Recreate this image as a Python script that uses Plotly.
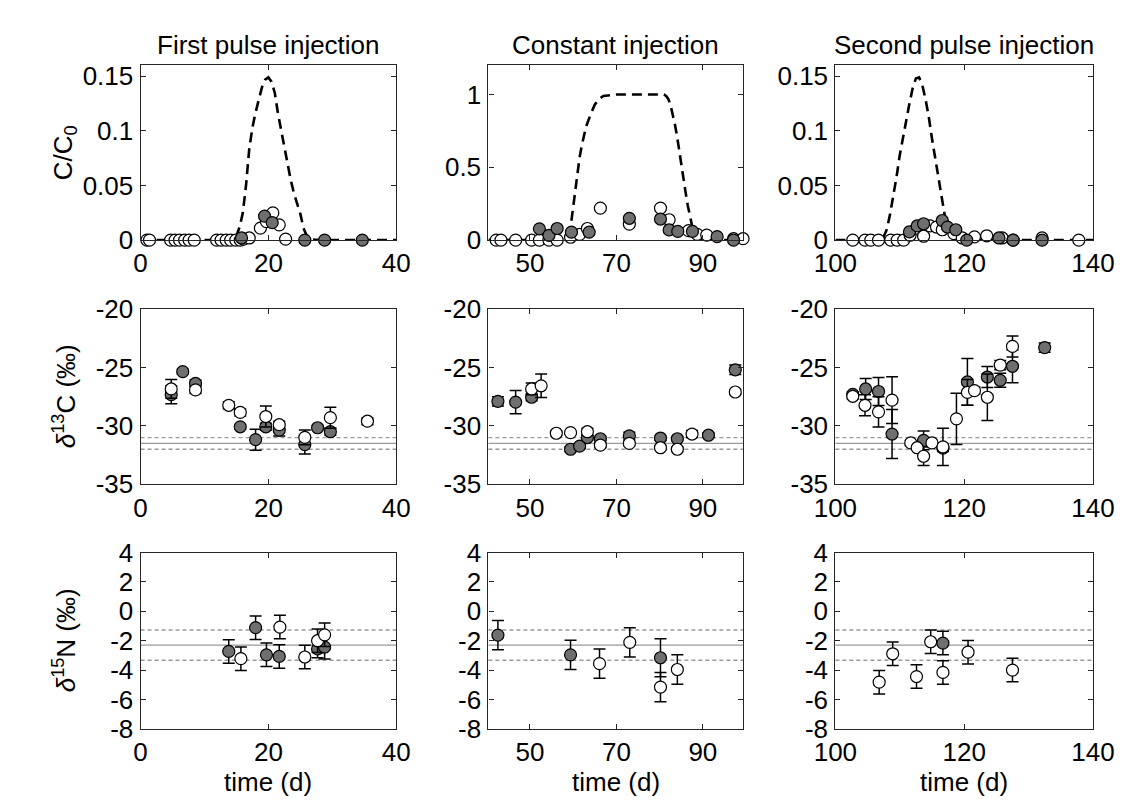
import plotly.graph_objects as go

# ---------------- DATA ----------------
# Top row: relative concentration C/C0 (model = dashed line, measured = circles)
fp_model_t = [0, 10, 14, 15, 15.5, 16, 16.5, 17, 17.5, 18, 18.5, 19, 19.5, 20, 20.5, 21, 21.5, 22, 22.5, 23, 23.5, 24, 24.5, 25, 25.5, 26, 26.5, 28, 40]
fp_model_c = [0, 0, 0, 0.004, 0.012, 0.025, 0.05, 0.083, 0.103, 0.117, 0.13, 0.14, 0.147, 0.149, 0.145, 0.135, 0.116, 0.1, 0.085, 0.07, 0.055, 0.043, 0.033, 0.024, 0.011, 0.004, 0.001, 0, 0]
fp_open_t = [1.0, 1.4, 4.7, 5.4, 6.1, 6.9, 7.6, 8.4, 11.9, 12.6, 13.4, 14.1, 14.9, 15.6, 16.1, 17.0, 18.75, 19.7, 20.7, 21.7, 22.7]
fp_open_c = [0, 0, 0, 0, 0, 0, 0, 0, 0, 0, 0, 0, 0, 0, 0.001, 0.002, 0.011, 0.017, 0.025, 0.014, 0.001]
fp_grey_t = [15.8, 19.4, 20.6, 25.7, 28.8, 34.7]
fp_grey_c = [0.002, 0.022, 0.016, 0, 0, 0]

ci_model_t = [40.4, 57, 58, 59, 59.5, 60, 60.5, 61, 61.5, 62, 62.5, 63, 64, 65, 66, 67, 70, 75, 80, 81, 81.5, 82, 82.5, 83, 83.5, 84, 84.5, 85, 85.5, 86, 86.5, 87, 87.5, 88, 89, 90, 99.3]
ci_model_c = [0, 0, 0.01, 0.05, 0.11, 0.23, 0.34, 0.46, 0.57, 0.65, 0.72, 0.78, 0.86, 0.93, 0.97, 0.99, 1, 1, 1, 1, 0.99, 0.97, 0.93, 0.87, 0.8, 0.72, 0.63, 0.53, 0.43, 0.33, 0.24, 0.16, 0.1, 0.05, 0.01, 0, 0]
ci_open_t = [42.2, 43.3, 46.7, 50.4, 52.2, 54.4, 56.3, 59.4, 61.5, 63.3, 66.3, 73.0, 80.2, 82.2, 86.7, 88.7, 90.9, 97.1, 99.3]
ci_open_c = [0, 0, 0, 0, 0, 0, 0, 0.02, 0.04, 0.08, 0.22, 0.11, 0.22, 0.14, 0.065, 0.04, 0.035, 0.01, 0.01]
ci_grey_t = [52.2, 54.4, 56.3, 59.6, 63.7, 73.0, 80.2, 82.2, 84.2, 87.6, 93.3, 97.1]
ci_grey_c = [0.078, 0.033, 0.08, 0.055, 0.055, 0.15, 0.145, 0.07, 0.06, 0.06, 0.024, 0]

sp_model_t = [100, 107, 107.5, 108, 108.5, 109, 109.5, 110, 110.5, 111, 111.5, 112, 112.5, 113, 113.5, 114, 114.5, 115, 115.5, 116, 116.5, 117, 117.5, 118, 119, 120, 140]
sp_model_c = [0, 0, 0.003, 0.01, 0.024, 0.04, 0.058, 0.078, 0.095, 0.11, 0.125, 0.139, 0.148, 0.149, 0.142, 0.129, 0.113, 0.093, 0.075, 0.055, 0.037, 0.022, 0.012, 0.005, 0.001, 0, 0]
sp_open_t = [102.7, 104.6, 105.5, 106.7, 108.6, 109.6, 110.6, 111.6, 112.6, 113.7, 114.7, 115.7, 116.6, 118.4, 119.7, 121.6, 123.5, 125.9, 127.6, 132.1, 137.8]
sp_open_c = [0, 0, 0, 0, 0, 0, 0, 0.0045, 0.011, 0.0036, 0.013, 0.012, 0.0095, 0.006, 0.002, 0.003, 0.004, 0.002, 0, 0.002, 0]
sp_grey_t = [111.5, 112.7, 113.7, 116.6, 117.4, 118.7, 120.4, 125.4, 127.6, 132.1]
sp_grey_c = [0.0075, 0.013, 0.015, 0.018, 0.012, 0.0095, 0, 0.002, 0, 0]

# Middle row: delta13C (permil) with error bars
fp_c13_open_t = [4.8, 8.6, 13.8, 15.6, 19.6, 21.7, 25.7, 29.7, 35.5]
fp_c13_open_v = [-26.84, -26.92, -28.24, -28.85, -29.2, -29.9, -30.99, -29.3, -29.6]
fp_c13_open_e = [0.8, 0.3, 0.3, 0.3, 0.9, 0.3, 0.63, 0.9, 0.3]
fp_c13_grey_t = [4.8, 6.6, 8.6, 15.6, 18.0, 19.6, 21.7, 25.7, 27.7, 29.7]
fp_c13_grey_v = [-27.33, -25.36, -26.37, -30.08, -31.18, -30.08, -30.36, -31.6, -30.16, -30.5]
fp_c13_grey_e = [0.77, 0.2, 0.3, 0.2, 0.9, 0.3, 0.5, 0.8, 0.2, 0.3]

ci_c13_open_t = [50.4, 52.6, 56.1, 59.4, 63.3, 66.3, 73.0, 80.2, 84.1, 87.5, 97.5]
ci_c13_open_v = [-26.84, -26.57, -30.63, -30.58, -30.5, -31.65, -31.5, -31.87, -32.0, -30.7, -27.1]
ci_c13_open_e = [0.5, 1.0, 0.2, 0.1, 0.3, 0.2, 0.2, 0.2, 0.2, 0.3, 0.2]
ci_c13_grey_t = [42.6, 46.7, 50.4, 59.4, 61.5, 63.3, 66.3, 73.0, 80.2, 84.1, 91.3, 97.5]
ci_c13_grey_v = [-27.9, -27.97, -27.55, -32.0, -31.73, -31.0, -31.1, -30.85, -31.04, -31.1, -30.8, -25.2]
ci_c13_grey_e = [0.4, 1.0, 0.3, 0.2, 0.2, 0.2, 0.2, 0.3, 0.2, 0.2, 0.2, 0.4]

sp_c13_open_t = [102.7, 104.6, 106.7, 108.8, 111.7, 112.7, 113.7, 115.0, 116.7, 118.8, 120.5, 121.6, 123.6, 125.6, 127.5]
sp_c13_open_v = [-27.47, -28.24, -28.8, -27.8, -31.46, -31.87, -32.6, -31.46, -31.8, -29.4, -27.14, -26.98, -27.55, -24.8, -23.2]
sp_c13_open_e = [0.2, 0.9, 1.3, 2.0, 0.2, 0.2, 0.8, 0.2, 1.6, 2.2, 1.1, 0.3, 2.0, 0.4, 0.9]
sp_c13_grey_t = [102.7, 104.7, 106.7, 108.8, 113.7, 116.7, 120.5, 123.6, 125.6, 127.5, 132.5]
sp_c13_grey_v = [-27.3, -26.84, -27.06, -30.7, -31.24, -31.9, -26.24, -25.82, -26.1, -24.9, -23.3]
sp_c13_grey_e = [0.2, 0.9, 1.2, 2.1, 0.8, 0.3, 2.0, 0.9, 0.6, 1.4, 0.4]

# Bottom row: delta15N (permil) with error bars
fp_n15_open_t = [15.7, 21.8, 25.7, 27.7, 28.8]
fp_n15_open_v = [-3.22, -1.07, -3.11, -2.0, -1.6]
fp_n15_open_e = [0.8, 0.8, 0.8, 0.8, 0.8]
fp_n15_grey_t = [13.8, 18.0, 19.7, 21.7, 27.7, 28.8]
fp_n15_grey_v = [-2.73, -1.11, -2.96, -3.07, -2.56, -2.44]
fp_n15_grey_e = [0.8, 0.8, 0.8, 0.8, 0.6, 0.8]

ci_n15_open_t = [66.1, 73.1, 80.2, 84.1]
ci_n15_open_v = [-3.56, -2.11, -5.16, -3.96]
ci_n15_open_e = [1.0, 1.0, 1.0, 1.0]
ci_n15_grey_t = [42.6, 59.4, 80.2]
ci_n15_grey_v = [-1.62, -2.96, -3.16]
ci_n15_grey_e = [1.0, 1.0, 1.3]

sp_n15_open_t = [106.8, 108.9, 112.6, 114.8, 116.7, 120.6, 127.5]
sp_n15_open_v = [-4.82, -2.89, -4.44, -2.07, -4.16, -2.78, -4.0]
sp_n15_open_e = [0.8, 0.8, 0.8, 0.8, 0.8, 0.8, 0.8]
sp_n15_grey_t = [116.7]
sp_n15_grey_v = [-2.16]
sp_n15_grey_e = [0.8]

# background reference values (mean, upper, lower)
c13_ref = [-31.5, -31.0, -32.0]
n15_ref = [-2.3, -1.27, -3.33]

col_titles = ["First pulse injection", "Constant injection", "Second pulse injection"]
x_ranges = [[0, 40], [40.4, 99.3], [100, 140]]
x_ticks = [[0, 20, 40], [50, 70, 90], [100, 120, 140]]
top_y_ranges = [[0, 0.16], [0, 1.2], [0, 0.16]]
top_y_ticks = [[0, 0.05, 0.1, 0.15], [0, 0.5, 1], [0, 0.05, 0.1, 0.15]]
top_y_text = [["0", "0.05", "0.1", "0.15"], ["0", "0.5", "1"], ["0", "0.05", "0.1", "0.15"]]
c13_range = [-35, -20]
c13_ticks = [-35, -30, -25, -20]
n15_range = [-8, 4]
n15_ticks = [-8, -6, -4, -2, 0, 2, 4]

# ---------------- STYLE ----------------
FONT = "Liberation Sans, Arial, Helvetica, sans-serif"
FS = 26
AXC = "#262626"
GREY = "#6f6f6f"
col_dom = [[0.1018, 0.3372], [0.4221, 0.6566], [0.7416, 0.9788]]
row_dom = [[0.7216, 0.9457], [0.4086, 0.6333], [0.0951, 0.3210]]

fig = go.Figure()


def nm(k):
    return "" if k == 1 else str(k)


def add_markers(k, t, v, fill, err=None):
    tr = dict(x=t, y=v, mode="markers", xaxis="x" + nm(k), yaxis="y" + nm(k),
              marker=dict(size=12, color=fill, line=dict(color="black", width=1.2)),
              cliponaxis=False, showlegend=False, hoverinfo="x+y")
    if err is not None:
        tr["error_y"] = dict(type="data", array=err, color="black", thickness=1.5, width=6)
    fig.add_trace(go.Scatter(**tr))


def fmt(v):
    return ("-" + str(abs(v))) if v < 0 else str(v)


top = [(fp_model_t, fp_model_c, fp_open_t, fp_open_c, fp_grey_t, fp_grey_c),
       (ci_model_t, ci_model_c, ci_open_t, ci_open_c, ci_grey_t, ci_grey_c),
       (sp_model_t, sp_model_c, sp_open_t, sp_open_c, sp_grey_t, sp_grey_c)]
mid = [(fp_c13_grey_t, fp_c13_grey_v, fp_c13_grey_e, fp_c13_open_t, fp_c13_open_v, fp_c13_open_e),
       (ci_c13_grey_t, ci_c13_grey_v, ci_c13_grey_e, ci_c13_open_t, ci_c13_open_v, ci_c13_open_e),
       (sp_c13_grey_t, sp_c13_grey_v, sp_c13_grey_e, sp_c13_open_t, sp_c13_open_v, sp_c13_open_e)]
bot = [(fp_n15_grey_t, fp_n15_grey_v, fp_n15_grey_e, fp_n15_open_t, fp_n15_open_v, fp_n15_open_e),
       (ci_n15_grey_t, ci_n15_grey_v, ci_n15_grey_e, ci_n15_open_t, ci_n15_open_v, ci_n15_open_e),
       (sp_n15_grey_t, sp_n15_grey_v, sp_n15_grey_e, sp_n15_open_t, sp_n15_open_v, sp_n15_open_e)]

layout = {}
shapes = []
for r in range(3):
    for c in range(3):
        k = r * 3 + c + 1
        axstyle = dict(showline=True, linecolor=AXC, linewidth=1.2, mirror="ticks",
                       ticks="inside", ticklen=5, tickwidth=1, tickcolor=AXC,
                       showgrid=False, zeroline=False,
                       tickfont=dict(family=FONT, size=FS, color="black"))
        layout["xaxis" + nm(k)] = dict(axstyle, domain=col_dom[c], anchor="y" + nm(k),
                                       range=x_ranges[c], tickvals=x_ticks[c],
                                       ticktext=[str(v) for v in x_ticks[c]])
        if r == 0:
            yr, yt, ytxt = top_y_ranges[c], top_y_ticks[c], top_y_text[c]
        elif r == 1:
            yr, yt, ytxt = c13_range, c13_ticks, [fmt(v) for v in c13_ticks]
        else:
            yr, yt, ytxt = n15_range, n15_ticks, [fmt(v) for v in n15_ticks]
        layout["yaxis" + nm(k)] = dict(axstyle, domain=row_dom[r], anchor="x" + nm(k),
                                       range=yr, tickvals=yt, ticktext=ytxt,
                                       ticklabelstandoff=1)
        if r == 0:
            mt, mc, ot, oc, gt, gc = top[c]
            fig.add_trace(go.Scatter(x=mt, y=mc, mode="lines", xaxis="x" + nm(k), yaxis="y" + nm(k),
                                     line=dict(color="black", width=2.6, dash="10px,6px"),
                                     showlegend=False, hoverinfo="skip"))
            add_markers(k, ot, oc, "white")
            add_markers(k, gt, gc, GREY)
        else:
            gt, gv, ge, ot, ov, oe = (mid if r == 1 else bot)[c]
            ref = c13_ref if r == 1 else n15_ref
            for i, val in enumerate(ref):
                shapes.append(dict(type="line", xref="x" + nm(k) + " domain", x0=0, x1=1,
                                   yref="y" + nm(k), y0=val, y1=val, layer="below",
                                   line=dict(color="#9a9a9a", width=1.3,
                                             dash="solid" if i == 0 else "4px,3px")))
            add_markers(k, gt, gv, GREY, ge)
            add_markers(k, ot, ov, "white", oe)

annotations = []
for c in range(3):
    annotations.append(dict(text=col_titles[c], xref="paper", yref="paper",
                            x=sum(col_dom[c]) / 2, y=1 - 23 / 810, xanchor="center", yanchor="middle",
                            showarrow=False, font=dict(family=FONT, size=FS, color="black")))
    annotations.append(dict(text="time (d)", xref="paper", yref="paper",
                            x=sum(col_dom[c]) / 2, y=1 - 788 / 810, xanchor="center", yanchor="middle",
                            showarrow=False, font=dict(family=FONT, size=FS, color="black")))
y_titles = ["C/C<sub>0</sub>", "<i>δ</i><sup>13</sup>C (‰)", "<i>δ</i><sup>15</sup>N (‰)"]
for r in range(3):
    annotations.append(dict(text=y_titles[r], xref="paper", yref="paper",
                            x=36 / 1130, y=sum(row_dom[r]) / 2, xanchor="center", yanchor="middle",
                            textangle=-90, showarrow=False,
                            font=dict(family=FONT, size=FS, color="black")))

fig.update_layout(width=1130, height=810, margin=dict(l=0, r=0, t=0, b=0),
                  paper_bgcolor="white", plot_bgcolor="white",
                  font=dict(family=FONT, size=FS, color="black"),
                  shapes=shapes, annotations=annotations, **layout)

fig.write_html("out.html")
